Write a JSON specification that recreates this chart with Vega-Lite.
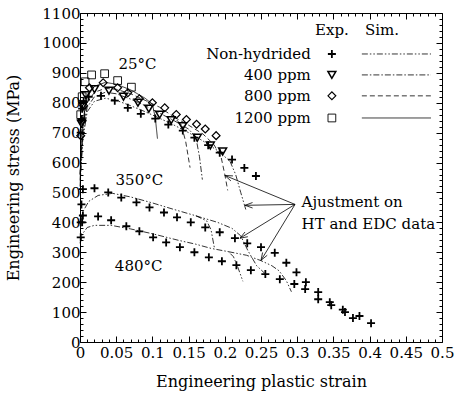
{
  "$schema": "https://vega.github.io/schema/vega-lite/v6.json",
  "width": 362,
  "height": 329,
  "padding": {"left": 5, "top": 6, "right": 5, "bottom": 5},
  "config": {
    "font": "DejaVu Serif",
    "view": {"stroke": "black", "strokeWidth": 1},
    "axis": {"labelFont": "DejaVu Serif", "titleFont": "DejaVu Serif", "labelFontSize": 15, "titleFontSize": 16, "titleFontWeight": "normal", "labelColor": "black", "titleColor": "black", "tickColor": "black", "tickWidth": 1, "domain": false, "grid": false, "labelFlush": false, "labelOverlap": false},
    "text": {"font": "DejaVu Serif"}
  },
  "datasets": {
    "exp": [
      {"grade": "Non-hydrided", "x": 0.001, "y": 700}, {"grade": "Non-hydrided", "x": 0.002, "y": 745}, {"grade": "Non-hydrided", "x": 0.003, "y": 780}, {"grade": "Non-hydrided", "x": 0.005, "y": 805}, {"grade": "Non-hydrided", "x": 0.012, "y": 820}, {"grade": "Non-hydrided", "x": 0.029, "y": 823}, {"grade": "Non-hydrided", "x": 0.048, "y": 807}, {"grade": "Non-hydrided", "x": 0.066, "y": 783}, {"grade": "Non-hydrided", "x": 0.084, "y": 763}, {"grade": "Non-hydrided", "x": 0.104, "y": 747}, {"grade": "Non-hydrided", "x": 0.122, "y": 727}, {"grade": "Non-hydrided", "x": 0.142, "y": 707}, {"grade": "Non-hydrided", "x": 0.158, "y": 683}, {"grade": "Non-hydrided", "x": 0.177, "y": 658}, {"grade": "Non-hydrided", "x": 0.193, "y": 633}, {"grade": "Non-hydrided", "x": 0.21, "y": 610}, {"grade": "Non-hydrided", "x": 0.227, "y": 582}, {"grade": "Non-hydrided", "x": 0.243, "y": 555},
      {"grade": "400 ppm", "x": 0.002, "y": 730}, {"grade": "400 ppm", "x": 0.004, "y": 790}, {"grade": "400 ppm", "x": 0.008, "y": 825}, {"grade": "400 ppm", "x": 0.02, "y": 845}, {"grade": "400 ppm", "x": 0.04, "y": 840}, {"grade": "400 ppm", "x": 0.06, "y": 820}, {"grade": "400 ppm", "x": 0.08, "y": 800}, {"grade": "400 ppm", "x": 0.095, "y": 780}, {"grade": "400 ppm", "x": 0.11, "y": 760}, {"grade": "400 ppm", "x": 0.126, "y": 742}, {"grade": "400 ppm", "x": 0.142, "y": 722}, {"grade": "400 ppm", "x": 0.162, "y": 683}, {"grade": "400 ppm", "x": 0.18, "y": 657}, {"grade": "400 ppm", "x": 0.197, "y": 637},
      {"grade": "800 ppm", "x": 0.001, "y": 690}, {"grade": "800 ppm", "x": 0.003, "y": 740}, {"grade": "800 ppm", "x": 0.005, "y": 790}, {"grade": "800 ppm", "x": 0.013, "y": 850}, {"grade": "800 ppm", "x": 0.032, "y": 867}, {"grade": "800 ppm", "x": 0.052, "y": 850}, {"grade": "800 ppm", "x": 0.066, "y": 833}, {"grade": "800 ppm", "x": 0.082, "y": 813}, {"grade": "800 ppm", "x": 0.1, "y": 800}, {"grade": "800 ppm", "x": 0.117, "y": 783}, {"grade": "800 ppm", "x": 0.133, "y": 761}, {"grade": "800 ppm", "x": 0.147, "y": 744}, {"grade": "800 ppm", "x": 0.161, "y": 728}, {"grade": "800 ppm", "x": 0.173, "y": 712}, {"grade": "800 ppm", "x": 0.188, "y": 690},
      {"grade": "1200 ppm", "x": 0.001, "y": 760}, {"grade": "1200 ppm", "x": 0.003, "y": 820}, {"grade": "1200 ppm", "x": 0.007, "y": 870}, {"grade": "1200 ppm", "x": 0.016, "y": 893}, {"grade": "1200 ppm", "x": 0.034, "y": 897}, {"grade": "1200 ppm", "x": 0.052, "y": 874}, {"grade": "1200 ppm", "x": 0.071, "y": 852},
      {"grade": "Non-hydrided", "x": 0.001, "y": 400}, {"grade": "Non-hydrided", "x": 0.002, "y": 460}, {"grade": "Non-hydrided", "x": 0.004, "y": 511}, {"grade": "Non-hydrided", "x": 0.02, "y": 514}, {"grade": "Non-hydrided", "x": 0.039, "y": 500}, {"grade": "Non-hydrided", "x": 0.057, "y": 483}, {"grade": "Non-hydrided", "x": 0.078, "y": 467}, {"grade": "Non-hydrided", "x": 0.096, "y": 450}, {"grade": "Non-hydrided", "x": 0.116, "y": 433}, {"grade": "Non-hydrided", "x": 0.134, "y": 417}, {"grade": "Non-hydrided", "x": 0.153, "y": 400}, {"grade": "Non-hydrided", "x": 0.173, "y": 383}, {"grade": "Non-hydrided", "x": 0.193, "y": 367}, {"grade": "Non-hydrided", "x": 0.214, "y": 347}, {"grade": "Non-hydrided", "x": 0.231, "y": 330}, {"grade": "Non-hydrided", "x": 0.25, "y": 317}, {"grade": "Non-hydrided", "x": 0.269, "y": 298}, {"grade": "Non-hydrided", "x": 0.285, "y": 265}, {"grade": "Non-hydrided", "x": 0.299, "y": 233}, {"grade": "Non-hydrided", "x": 0.312, "y": 200}, {"grade": "Non-hydrided", "x": 0.329, "y": 167}, {"grade": "Non-hydrided", "x": 0.345, "y": 133}, {"grade": "Non-hydrided", "x": 0.366, "y": 100}, {"grade": "Non-hydrided", "x": 0.386, "y": 87}, {"grade": "Non-hydrided", "x": 0.402, "y": 63},
      {"grade": "Non-hydrided", "x": 0.001, "y": 350}, {"grade": "Non-hydrided", "x": 0.003, "y": 400}, {"grade": "Non-hydrided", "x": 0.004, "y": 423}, {"grade": "Non-hydrided", "x": 0.025, "y": 420}, {"grade": "Non-hydrided", "x": 0.043, "y": 407}, {"grade": "Non-hydrided", "x": 0.064, "y": 387}, {"grade": "Non-hydrided", "x": 0.082, "y": 370}, {"grade": "Non-hydrided", "x": 0.101, "y": 350}, {"grade": "Non-hydrided", "x": 0.119, "y": 333}, {"grade": "Non-hydrided", "x": 0.138, "y": 317}, {"grade": "Non-hydrided", "x": 0.158, "y": 300}, {"grade": "Non-hydrided", "x": 0.178, "y": 283}, {"grade": "Non-hydrided", "x": 0.196, "y": 270}, {"grade": "Non-hydrided", "x": 0.216, "y": 257}, {"grade": "Non-hydrided", "x": 0.236, "y": 240}, {"grade": "Non-hydrided", "x": 0.256, "y": 227}, {"grade": "Non-hydrided", "x": 0.276, "y": 210}, {"grade": "Non-hydrided", "x": 0.296, "y": 194}, {"grade": "Non-hydrided", "x": 0.311, "y": 177}, {"grade": "Non-hydrided", "x": 0.329, "y": 143}, {"grade": "Non-hydrided", "x": 0.347, "y": 123}, {"grade": "Non-hydrided", "x": 0.363, "y": 108}, {"grade": "Non-hydrided", "x": 0.377, "y": 80}
    ],
    "sim": [
      {"curve": "25-1200", "grade": "1200 ppm", "x": 0, "y": 560}, {"curve": "25-1200", "grade": "1200 ppm", "x": 0.004, "y": 740}, {"curve": "25-1200", "grade": "1200 ppm", "x": 0.01, "y": 820}, {"curve": "25-1200", "grade": "1200 ppm", "x": 0.02, "y": 855}, {"curve": "25-1200", "grade": "1200 ppm", "x": 0.035, "y": 868}, {"curve": "25-1200", "grade": "1200 ppm", "x": 0.05, "y": 862}, {"curve": "25-1200", "grade": "1200 ppm", "x": 0.07, "y": 843}, {"curve": "25-1200", "grade": "1200 ppm", "x": 0.09, "y": 815}, {"curve": "25-1200", "grade": "1200 ppm", "x": 0.1, "y": 795}, {"curve": "25-1200", "grade": "1200 ppm", "x": 0.104, "y": 750}, {"curve": "25-1200", "grade": "1200 ppm", "x": 0.107, "y": 680},
      {"curve": "25-800a", "grade": "800 ppm", "x": 0, "y": 560}, {"curve": "25-800a", "grade": "800 ppm", "x": 0.004, "y": 720}, {"curve": "25-800a", "grade": "800 ppm", "x": 0.01, "y": 800}, {"curve": "25-800a", "grade": "800 ppm", "x": 0.02, "y": 835}, {"curve": "25-800a", "grade": "800 ppm", "x": 0.035, "y": 848}, {"curve": "25-800a", "grade": "800 ppm", "x": 0.05, "y": 845}, {"curve": "25-800a", "grade": "800 ppm", "x": 0.07, "y": 830}, {"curve": "25-800a", "grade": "800 ppm", "x": 0.09, "y": 808}, {"curve": "25-800a", "grade": "800 ppm", "x": 0.11, "y": 785}, {"curve": "25-800a", "grade": "800 ppm", "x": 0.13, "y": 752}, {"curve": "25-800a", "grade": "800 ppm", "x": 0.14, "y": 725}, {"curve": "25-800a", "grade": "800 ppm", "x": 0.146, "y": 670}, {"curve": "25-800a", "grade": "800 ppm", "x": 0.152, "y": 583},
      {"curve": "25-800b", "grade": "800 ppm", "x": 0.13, "y": 752}, {"curve": "25-800b", "grade": "800 ppm", "x": 0.15, "y": 725}, {"curve": "25-800b", "grade": "800 ppm", "x": 0.17, "y": 695}, {"curve": "25-800b", "grade": "800 ppm", "x": 0.185, "y": 660}, {"curve": "25-800b", "grade": "800 ppm", "x": 0.195, "y": 617}, {"curve": "25-800b", "grade": "800 ppm", "x": 0.2, "y": 560}, {"curve": "25-800b", "grade": "800 ppm", "x": 0.204, "y": 507},
      {"curve": "25-400", "grade": "400 ppm", "x": 0, "y": 540}, {"curve": "25-400", "grade": "400 ppm", "x": 0.004, "y": 700}, {"curve": "25-400", "grade": "400 ppm", "x": 0.01, "y": 785}, {"curve": "25-400", "grade": "400 ppm", "x": 0.02, "y": 820}, {"curve": "25-400", "grade": "400 ppm", "x": 0.035, "y": 835}, {"curve": "25-400", "grade": "400 ppm", "x": 0.05, "y": 830}, {"curve": "25-400", "grade": "400 ppm", "x": 0.07, "y": 812}, {"curve": "25-400", "grade": "400 ppm", "x": 0.09, "y": 790}, {"curve": "25-400", "grade": "400 ppm", "x": 0.11, "y": 765}, {"curve": "25-400", "grade": "400 ppm", "x": 0.13, "y": 740}, {"curve": "25-400", "grade": "400 ppm", "x": 0.15, "y": 712}, {"curve": "25-400", "grade": "400 ppm", "x": 0.16, "y": 685}, {"curve": "25-400", "grade": "400 ppm", "x": 0.165, "y": 620}, {"curve": "25-400", "grade": "400 ppm", "x": 0.169, "y": 543},
      {"curve": "25-NH", "grade": "Non-hydrided", "x": 0, "y": 520}, {"curve": "25-NH", "grade": "Non-hydrided", "x": 0.004, "y": 680}, {"curve": "25-NH", "grade": "Non-hydrided", "x": 0.01, "y": 770}, {"curve": "25-NH", "grade": "Non-hydrided", "x": 0.02, "y": 805}, {"curve": "25-NH", "grade": "Non-hydrided", "x": 0.035, "y": 815}, {"curve": "25-NH", "grade": "Non-hydrided", "x": 0.05, "y": 808}, {"curve": "25-NH", "grade": "Non-hydrided", "x": 0.07, "y": 790}, {"curve": "25-NH", "grade": "Non-hydrided", "x": 0.09, "y": 770}, {"curve": "25-NH", "grade": "Non-hydrided", "x": 0.11, "y": 748}, {"curve": "25-NH", "grade": "Non-hydrided", "x": 0.13, "y": 725}, {"curve": "25-NH", "grade": "Non-hydrided", "x": 0.15, "y": 700}, {"curve": "25-NH", "grade": "Non-hydrided", "x": 0.17, "y": 672}, {"curve": "25-NH", "grade": "Non-hydrided", "x": 0.19, "y": 640}, {"curve": "25-NH", "grade": "Non-hydrided", "x": 0.207, "y": 605}, {"curve": "25-NH", "grade": "Non-hydrided", "x": 0.215, "y": 560}, {"curve": "25-NH", "grade": "Non-hydrided", "x": 0.222, "y": 500}, {"curve": "25-NH", "grade": "Non-hydrided", "x": 0.229, "y": 443},
      {"curve": "350a", "grade": "Non-hydrided", "x": 0, "y": 400}, {"curve": "350a", "grade": "Non-hydrided", "x": 0.005, "y": 440}, {"curve": "350a", "grade": "Non-hydrided", "x": 0.012, "y": 470}, {"curve": "350a", "grade": "Non-hydrided", "x": 0.025, "y": 490}, {"curve": "350a", "grade": "Non-hydrided", "x": 0.045, "y": 497}, {"curve": "350a", "grade": "Non-hydrided", "x": 0.07, "y": 485}, {"curve": "350a", "grade": "Non-hydrided", "x": 0.1, "y": 465}, {"curve": "350a", "grade": "Non-hydrided", "x": 0.13, "y": 443}, {"curve": "350a", "grade": "Non-hydrided", "x": 0.16, "y": 422}, {"curve": "350a", "grade": "Non-hydrided", "x": 0.175, "y": 405}, {"curve": "350a", "grade": "Non-hydrided", "x": 0.181, "y": 375}, {"curve": "350a", "grade": "Non-hydrided", "x": 0.186, "y": 310},
      {"curve": "350b", "grade": "Non-hydrided", "x": 0.16, "y": 422}, {"curve": "350b", "grade": "Non-hydrided", "x": 0.19, "y": 400}, {"curve": "350b", "grade": "Non-hydrided", "x": 0.21, "y": 380}, {"curve": "350b", "grade": "Non-hydrided", "x": 0.222, "y": 355}, {"curve": "350b", "grade": "Non-hydrided", "x": 0.232, "y": 305}, {"curve": "350b", "grade": "Non-hydrided", "x": 0.244, "y": 255}, {"curve": "350b", "grade": "Non-hydrided", "x": 0.255, "y": 230},
      {"curve": "480a", "grade": "Non-hydrided", "x": 0, "y": 330}, {"curve": "480a", "grade": "Non-hydrided", "x": 0.003, "y": 360}, {"curve": "480a", "grade": "Non-hydrided", "x": 0.01, "y": 383}, {"curve": "480a", "grade": "Non-hydrided", "x": 0.02, "y": 390}, {"curve": "480a", "grade": "Non-hydrided", "x": 0.043, "y": 390}, {"curve": "480a", "grade": "Non-hydrided", "x": 0.07, "y": 378}, {"curve": "480a", "grade": "Non-hydrided", "x": 0.1, "y": 362}, {"curve": "480a", "grade": "Non-hydrided", "x": 0.136, "y": 340}, {"curve": "480a", "grade": "Non-hydrided", "x": 0.16, "y": 327}, {"curve": "480a", "grade": "Non-hydrided", "x": 0.181, "y": 313}, {"curve": "480a", "grade": "Non-hydrided", "x": 0.205, "y": 302}, {"curve": "480a", "grade": "Non-hydrided", "x": 0.212, "y": 285}, {"curve": "480a", "grade": "Non-hydrided", "x": 0.218, "y": 250}, {"curve": "480a", "grade": "Non-hydrided", "x": 0.225, "y": 203},
      {"curve": "480b", "grade": "Non-hydrided", "x": 0.205, "y": 302}, {"curve": "480b", "grade": "Non-hydrided", "x": 0.23, "y": 290}, {"curve": "480b", "grade": "Non-hydrided", "x": 0.25, "y": 272}, {"curve": "480b", "grade": "Non-hydrided", "x": 0.265, "y": 255}, {"curve": "480b", "grade": "Non-hydrided", "x": 0.275, "y": 238}, {"curve": "480b", "grade": "Non-hydrided", "x": 0.285, "y": 205}, {"curve": "480b", "grade": "Non-hydrided", "x": 0.292, "y": 168}
    ],
    "shafts": [
      {"x": 0.297, "y": 460, "x2": 0.2, "y2": 557}, {"x": 0.297, "y": 460, "x2": 0.228, "y2": 457}, {"x": 0.297, "y": 460, "x2": 0.221, "y2": 347}, {"x": 0.297, "y": 460, "x2": 0.25, "y2": 273}
    ],
    "heads": [
      {"x": 0.2, "y": 557, "x2": 0.2084, "y2": 538.7}, {"x": 0.2, "y": 557, "x2": 0.2113, "y2": 555.3},
      {"x": 0.228, "y": 457, "x2": 0.2384, "y2": 448}, {"x": 0.228, "y": 457, "x2": 0.2383, "y2": 466.3},
      {"x": 0.221, "y": 347, "x2": 0.2318, "y2": 352}, {"x": 0.221, "y": 347, "x2": 0.2279, "y2": 367.7},
      {"x": 0.25, "y": 273, "x2": 0.2586, "y2": 290}, {"x": 0.25, "y": 273, "x2": 0.2522, "y2": 299.3}
    ],
    "notes": [
      {"text": "25°C", "x": 0.0795, "y": 930}, {"text": "350°C", "x": 0.082, "y": 543}, {"text": "480°C", "x": 0.081, "y": 254}, {"text": "Exp.", "x": 0.3479, "y": 1043}, {"text": "Sim.", "x": 0.417, "y": 1043}
    ],
    "notesLeft": [
      {"text": "Ajustment on", "x": 0.306, "y": 467}, {"text": "HT and EDC data", "x": 0.306, "y": 396}
    ],
    "key": [
      {"grade": "Non-hydrided", "y": 963}, {"grade": "400 ppm", "y": 893}, {"grade": "800 ppm", "y": 823}, {"grade": "1200 ppm", "y": 749}
    ]
  },
  "layer": [
    {
      "data": {"name": "exp"},
      "mark": {"type": "point", "filled": false, "fill": null, "stroke": "black", "opacity": 1},
      "encoding": {
        "x": {"field": "x", "type": "quantitative", "scale": {"domain": [0, 0.5], "nice": false, "zero": false}, "axis": {"orient": "bottom", "values": [0, 0.05, 0.1, 0.15, 0.2, 0.25, 0.3, 0.35, 0.4, 0.45, 0.5], "format": "~g", "tickSize": -6, "labelPadding": 9, "title": "Engineering plastic strain", "titlePadding": 13}},
        "y": {"field": "y", "type": "quantitative", "scale": {"domain": [0, 1100], "nice": false}, "axis": {"orient": "left", "values": [0, 100, 200, 300, 400, 500, 600, 700, 800, 900, 1000, 1100], "format": "d", "tickSize": -6, "labelPadding": 6, "title": "Engineering stress (MPa)", "titlePadding": 20}},
        "shape": {"field": "grade", "type": "nominal", "scale": {"domain": ["Non-hydrided", "400 ppm", "800 ppm", "1200 ppm"], "range": ["M-1,0H1M0,-1V1", "triangle-down", "diamond", "square"]}, "legend": null},
        "size": {"field": "grade", "type": "ordinal", "scale": {"domain": ["Non-hydrided", "400 ppm", "800 ppm", "1200 ppm"], "range": [64, 60, 95, 75]}, "legend": null},
        "strokeWidth": {"field": "grade", "type": "ordinal", "scale": {"domain": ["Non-hydrided", "400 ppm", "800 ppm", "1200 ppm"], "range": [1.8, 0.9, 0.9, 0.9]}, "legend": null}
      }
    },
    {
      "data": {"name": "sim"},
      "mark": {"type": "line", "stroke": "black", "strokeWidth": 0.8},
      "encoding": {
        "x": {"field": "x", "type": "quantitative", "scale": {"domain": [0, 0.5], "nice": false, "zero": false}, "axis": {"orient": "bottom", "values": [0.01, 0.02, 0.03, 0.04, 0.06, 0.07, 0.08, 0.09, 0.11, 0.12, 0.13, 0.14, 0.16, 0.17, 0.18, 0.19, 0.21, 0.22, 0.23, 0.24, 0.26, 0.27, 0.28, 0.29, 0.31, 0.32, 0.33, 0.34, 0.36, 0.37, 0.38, 0.39, 0.41, 0.42, 0.43, 0.44, 0.46, 0.47, 0.48, 0.49], "tickSize": -3, "labels": false, "title": null}},
        "y": {"field": "y", "type": "quantitative", "scale": {"domain": [0, 1100], "nice": false}, "axis": {"orient": "left", "values": [20, 40, 60, 80, 120, 140, 160, 180, 220, 240, 260, 280, 320, 340, 360, 380, 420, 440, 460, 480, 520, 540, 560, 580, 620, 640, 660, 680, 720, 740, 760, 780, 820, 840, 860, 880, 920, 940, 960, 980, 1020, 1040, 1060, 1080], "tickSize": -3, "labels": false, "title": null}},
        "detail": {"field": "curve", "type": "nominal"},
        "strokeDash": {"field": "grade", "type": "nominal", "scale": {"domain": ["Non-hydrided", "400 ppm", "800 ppm", "1200 ppm"], "range": [[6, 2, 1.5, 2, 1.5, 2], [6, 2, 1.5, 2], [5, 3], [1, 0]]}, "legend": null}
      }
    },
    {
      "data": {"name": "shafts"},
      "mark": {"type": "rule", "stroke": "black", "strokeWidth": 0.8},
      "encoding": {
        "x": {"field": "x", "type": "quantitative", "scale": {"domain": [0, 0.5], "nice": false, "zero": false}, "axis": {"orient": "top", "values": [0, 0.05, 0.1, 0.15, 0.2, 0.25, 0.3, 0.35, 0.4, 0.45, 0.5], "tickSize": -6, "labels": false, "title": null}},
        "y": {"field": "y", "type": "quantitative", "scale": {"domain": [0, 1100], "nice": false}, "axis": {"orient": "right", "values": [0, 100, 200, 300, 400, 500, 600, 700, 800, 900, 1000, 1100], "tickSize": -6, "labels": false, "title": null}},
        "x2": {"field": "x2"},
        "y2": {"field": "y2"}
      }
    },
    {
      "data": {"name": "heads"},
      "mark": {"type": "rule", "stroke": "black", "strokeWidth": 0.8},
      "encoding": {
        "x": {"field": "x", "type": "quantitative", "scale": {"domain": [0, 0.5], "nice": false, "zero": false}, "axis": {"orient": "top", "values": [0.01, 0.02, 0.03, 0.04, 0.06, 0.07, 0.08, 0.09, 0.11, 0.12, 0.13, 0.14, 0.16, 0.17, 0.18, 0.19, 0.21, 0.22, 0.23, 0.24, 0.26, 0.27, 0.28, 0.29, 0.31, 0.32, 0.33, 0.34, 0.36, 0.37, 0.38, 0.39, 0.41, 0.42, 0.43, 0.44, 0.46, 0.47, 0.48, 0.49], "tickSize": -3, "labels": false, "title": null}},
        "y": {"field": "y", "type": "quantitative", "scale": {"domain": [0, 1100], "nice": false}, "axis": {"orient": "right", "values": [20, 40, 60, 80, 120, 140, 160, 180, 220, 240, 260, 280, 320, 340, 360, 380, 420, 440, 460, 480, 520, 540, 560, 580, 620, 640, 660, 680, 720, 740, 760, 780, 820, 840, 860, 880, 920, 940, 960, 980, 1020, 1040, 1060, 1080], "tickSize": -3, "labels": false, "title": null}},
        "x2": {"field": "x2"},
        "y2": {"field": "y2"}
      }
    },
    {
      "data": {"name": "notes"},
      "mark": {"type": "text", "font": "DejaVu Serif", "fontSize": 15, "align": "center", "baseline": "middle", "color": "black"},
      "encoding": {
        "x": {"field": "x", "type": "quantitative", "scale": {"domain": [0, 0.5], "nice": false, "zero": false}, "axis": null},
        "y": {"field": "y", "type": "quantitative", "scale": {"domain": [0, 1100], "nice": false}, "axis": null},
        "text": {"field": "text"}
      }
    },
    {
      "data": {"name": "notesLeft"},
      "mark": {"type": "text", "font": "DejaVu Serif", "fontSize": 15, "align": "left", "baseline": "middle", "color": "black"},
      "encoding": {
        "x": {"field": "x", "type": "quantitative", "scale": {"domain": [0, 0.5], "nice": false, "zero": false}, "axis": null},
        "y": {"field": "y", "type": "quantitative", "scale": {"domain": [0, 1100], "nice": false}, "axis": null},
        "text": {"field": "text"}
      }
    },
    {
      "data": {"name": "key"},
      "mark": {"type": "text", "font": "DejaVu Serif", "fontSize": 15, "align": "right", "baseline": "middle", "color": "black"},
      "encoding": {
        "x": {"datum": 0.3188, "type": "quantitative", "scale": {"domain": [0, 0.5], "nice": false, "zero": false}, "axis": null},
        "y": {"field": "y", "type": "quantitative", "scale": {"domain": [0, 1100], "nice": false}, "axis": null},
        "text": {"field": "grade"}
      }
    },
    {
      "data": {"name": "key"},
      "mark": {"type": "point", "filled": false, "fill": null, "stroke": "black", "opacity": 1},
      "encoding": {
        "x": {"datum": 0.3479, "type": "quantitative", "scale": {"domain": [0, 0.5], "nice": false, "zero": false}, "axis": null},
        "y": {"field": "y", "type": "quantitative", "scale": {"domain": [0, 1100], "nice": false}, "axis": null},
        "shape": {"field": "grade", "type": "nominal", "legend": null},
        "size": {"field": "grade", "type": "ordinal", "legend": null},
        "strokeWidth": {"field": "grade", "type": "ordinal", "legend": null}
      }
    },
    {
      "data": {"name": "key"},
      "mark": {"type": "rule", "stroke": "black", "strokeWidth": 0.8},
      "encoding": {
        "x": {"datum": 0.3893, "type": "quantitative", "scale": {"domain": [0, 0.5], "nice": false, "zero": false}, "axis": null},
        "x2": {"datum": 0.4848},
        "y": {"field": "y", "type": "quantitative", "scale": {"domain": [0, 1100], "nice": false}, "axis": null},
        "strokeDash": {"field": "grade", "type": "nominal", "legend": null}
      }
    }
  ],
  "resolve": {"axis": {"x": "independent", "y": "independent"}}
}
